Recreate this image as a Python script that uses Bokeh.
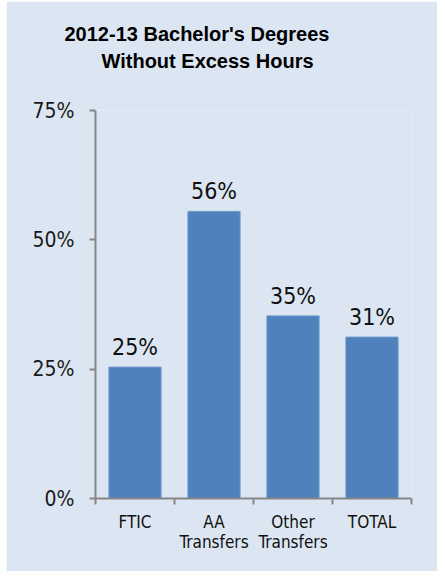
from bokeh.plotting import figure
from bokeh.models import ColumnDataSource, FixedTicker, Range1d, Title, Spacer
from bokeh.layouts import column, row
from bokeh.core.properties import value
from bokeh.embed import file_html
from bokeh.resources import INLINE

categories = ["FTIC", "AA\nTransfers", "Other\nTransfers", "TOTAL"]
shares = [0.254, 0.555, 0.353, 0.312]
share_labels = ["25%", "56%", "35%", "31%"]
y_ticks = [0, 0.25, 0.5, 0.75]
y_tick_labels = ["0%", "25%", "50%", "75%"]
title_lines = ["2012-13 Bachelor's Degrees", "Without Excess Hours"]

BG = "#DCE6F2"
BAR = "#4F81BD"
AXIS = "#868686"
COND = "DejaVu Sans Condensed"

centers = [i + 0.5 for i in range(len(categories))]
src = ColumnDataSource(dict(x=centers, top=shares, lab=share_labels))

p = figure(width=431, height=570, output_backend="svg", toolbar_location=None,
           title=None,
           x_range=Range1d(0, len(categories)), y_range=Range1d(0, 0.75),
           min_border_left=89, min_border_right=26, min_border_top=109,
           min_border_bottom=73)
p.background_fill_color = BG
p.border_fill_color = BG
p.outline_line_color = None
p.grid.grid_line_color = None

p.vbar(x="x", top="top", width=0.66, bottom=0, source=src,
       fill_color=BAR, line_color="#6D97CC", line_width=1)
p.text(x="x", y="top", text="lab", source=src, text_align="center",
       text_baseline="alphabetic", y_offset=-20,
       text_font=value(COND), text_font_size="23px", text_color="#111111")

# y axis
ya = p.yaxis[0]
ya.ticker = FixedTicker(ticks=y_ticks)
ya.major_label_overrides = {t: l for t, l in zip(y_ticks, y_tick_labels)}
ya.axis_line_color = AXIS
ya.axis_line_width = 2
ya.major_tick_line_color = AXIS
ya.major_tick_line_width = 2
ya.major_tick_out = 6
ya.major_tick_in = 0
ya.minor_tick_line_color = None
ya.major_label_text_font = COND
ya.major_label_text_font_size = "21px"
ya.major_label_text_color = "#1a1a1a"
ya.major_label_standoff = 15

# x axis
xa = p.xaxis[0]
xa.ticker = FixedTicker(ticks=centers, minor_ticks=list(range(len(categories) + 1)))
xa.major_label_overrides = {c: l for c, l in zip(centers, categories)}
xa.axis_line_color = AXIS
xa.axis_line_width = 2
xa.major_tick_line_color = None
xa.minor_tick_line_color = AXIS
xa.minor_tick_line_width = 2
xa.minor_tick_out = 6
xa.minor_tick_in = 0
xa.major_label_text_font = COND
xa.major_label_text_font_size = "17px"
xa.major_label_text_color = "#111111"
xa.major_label_text_line_height = 1.0
xa.major_label_standoff = 7

# title: spacer panel, then the two lines (inner first), each centred on the panel
p.add_layout(Title(text=" ", text_font_size="2px", standoff=33), "above")
p.add_layout(Title(text=title_lines[1], align="left", offset=6, standoff=4,
                   text_font="Liberation Sans", text_font_style="bold",
                   text_font_size="20px", text_color="#000000"), "above")
p.add_layout(Title(text=title_lines[0], align="left", offset=-31, standoff=2,
                   text_font="Liberation Sans", text_font_style="bold",
                   text_font_size="20px", text_color="#000000"), "above")

layout = row(Spacer(width=6), column(Spacer(height=1), p))
open("out.html", "w").write(file_html(layout, INLINE))
